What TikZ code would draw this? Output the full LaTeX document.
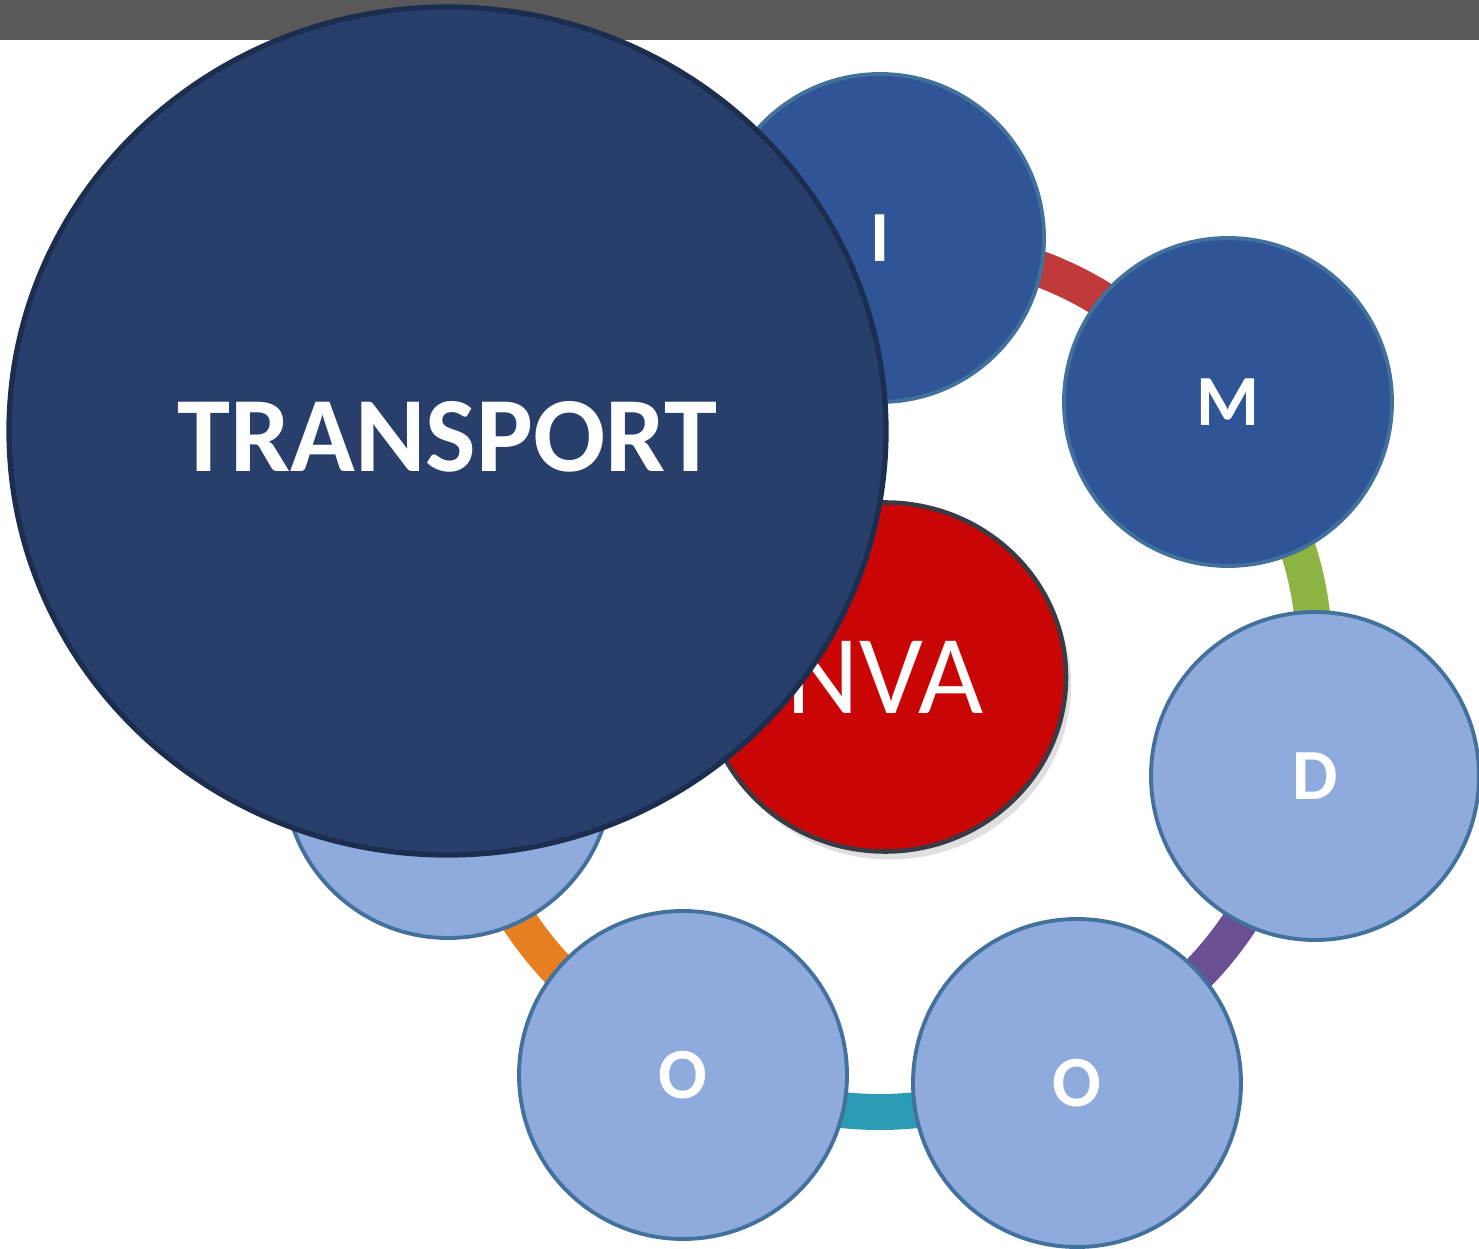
\documentclass[tikz,border=0pt]{standalone}
\usepackage{fontspec}
\setmainfont{Carlito}
\usepackage{xcolor}
\usetikzlibrary{shapes.geometric,shadows,calc}

\definecolor{barGrey}{HTML}{595959}
\definecolor{ballDark}{HTML}{2F5597}
\definecolor{ballLight}{HTML}{8FAADC}
\definecolor{ballEdge}{HTML}{41719C}
\definecolor{bigNavy}{HTML}{283F6C}
\definecolor{bigEdge}{HTML}{1C2E50}
\definecolor{nvaRed}{HTML}{CA0505}
\definecolor{nvaEdge}{HTML}{3A3A44}
\definecolor{ringRed}{HTML}{C0393B}
\definecolor{ringGreen}{HTML}{8DB342}
\definecolor{ringPurple}{HTML}{6A4F94}
\definecolor{ringTeal}{HTML}{2C9CB5}
\definecolor{ringOrange}{HTML}{E67E22}

\pgfdeclarelayer{ring}
\pgfsetlayers{ring,main}

\begin{document}
\begin{tikzpicture}[
    x=0.1mm, y=0.1mm,
    ball/.style={circle, draw=ballEdge, line width=1.1pt, minimum size=3.28cm, inner sep=0pt, text=white, font=\fontsize{20.5}{24}\selectfont\bfseries},
    dark/.style={ball, fill=ballDark},
    light/.style={ball, fill=ballLight},
    link/.style={line width=0.36cm}
]
\useasboundingbox (0,0) rectangle (1479,1248);
% grey band on top
\fill[barGrey] (0,1208) rectangle (1479,1248);

% the ring of letters
\node[dark] (nI) at (880,1010) {I};
\node[dark] (nM) at (1228,846) {M};
\node[light] (nD) at (1315,472) {D};
\node[light] (nO2) at (1077,165) {O};
\node[light] (nO1) at (683,173) {O};
\node[light] (nH) at (448,474) {};

% points of the ring under each circle
\coordinate (ctr) at (880,573);
\coordinate (rI) at ($(ctr)+(90:432)$);
\coordinate (rM) at ($(ctr)+(38.3:432)$);
\coordinate (rD) at ($(ctr)+(-12.8:432)$);
\coordinate (rO2) at ($(ctr)+(-64.1:432)$);
\coordinate (rO1) at ($(ctr)+(-116.3:432)$);
\coordinate (rH) at ($(ctr)+(-167.3:432)$);

\begin{pgfonlayer}{ring}
\draw[link, ringRed] (rI) to[bend left=25.8] (rM);
\draw[link, ringGreen] (rM) to[bend left=25.5] (rD);
\draw[link, ringPurple] (rD) to[bend left=25.6] (rO2);
\draw[link, ringTeal] (rO2) to[bend left=26.1] (rO1);
\draw[link, ringOrange] (rO1) to[bend left=25.5] (rH);
\end{pgfonlayer}

% centre and big circle
\node[ellipse, fill=nvaRed, draw=nvaEdge, line width=1.3pt, minimum width=3.62cm, minimum height=3.49cm,
      drop shadow={opacity=0.25, shadow xshift=0.5mm, shadow yshift=-0.8mm},
      text=white, font=\fontsize{32}{36}\selectfont] (nva) at (885,571) {NVA};
\node[ellipse, fill=bigNavy, draw=bigEdge, line width=1.5pt, minimum width=8.77cm, minimum height=8.48cm,
      text=white, font=\fontsize{30.4}{36}\selectfont\bfseries] (big) at (447.5,817) {\raisebox{-0.5mm}[\height][0pt]{TRANSPORT}};
\end{tikzpicture}
\end{document}
